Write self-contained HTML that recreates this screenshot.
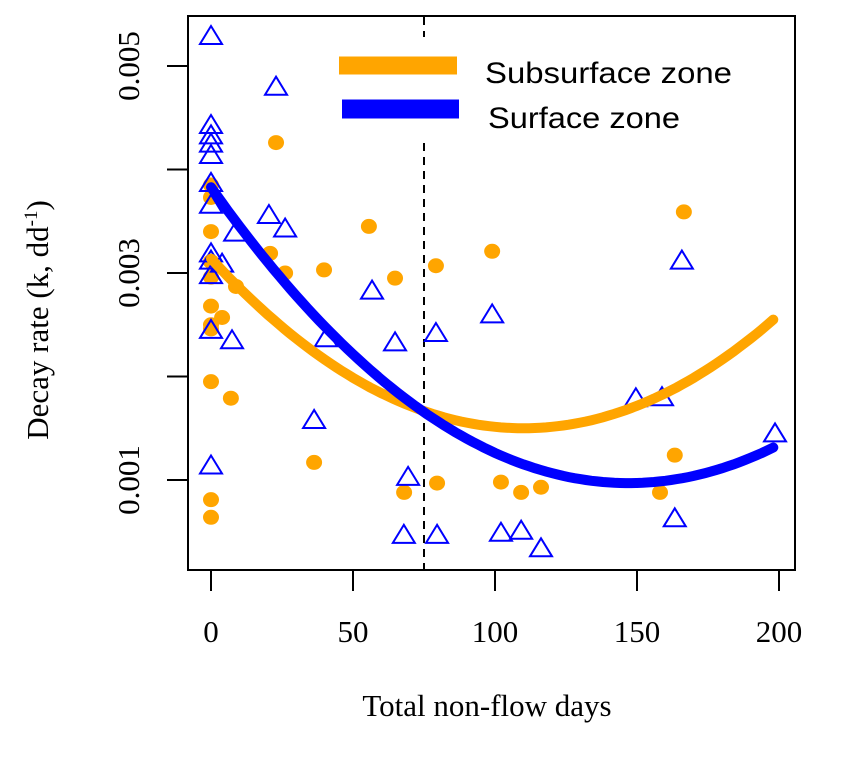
<!DOCTYPE html>
<html><head><meta charset="utf-8"><style>
html,body{margin:0;padding:0;background:#fff;}
svg text{font-family:"Liberation Serif",serif;}
</style></head><body>
<svg id="chart" width="866" height="762" viewBox="0 0 866 762" xmlns="http://www.w3.org/2000/svg">
<rect x="188" y="16" width="607" height="554" fill="none" stroke="#000" stroke-width="2"/>
<g id="marks"></g>
<g id="axes"></g>
<rect x="335" y="37" width="430" height="100" fill="#fff"/>
<line x1="339" y1="65.5" x2="457" y2="65.5" stroke="#FFA500" stroke-width="18"/>
<line x1="342" y1="109" x2="459" y2="109" stroke="#0000FF" stroke-width="19"/>
<text x="485" y="83" font-size="30" textLength="247" lengthAdjust="spacingAndGlyphs" style="font-family:'Liberation Sans',sans-serif">Subsurface zone</text>
<text x="488" y="128" font-size="30" textLength="192" lengthAdjust="spacingAndGlyphs" style="font-family:'Liberation Sans',sans-serif">Surface zone</text>
<text x="487" y="716" font-size="31" text-anchor="middle">Total non-flow days</text>
<text transform="translate(48,320) rotate(-90)" font-size="31" text-anchor="middle">Decay rate (k, dd<tspan font-size="19" dy="-11">-1</tspan><tspan dy="11">)</tspan></text>
</svg>
<script>
const xTicks=[0,50,100,150,200];
const yTicks=[0.001,0.002,0.003,0.004,0.005];
const yTickLabels=["0.001","","0.003","","0.005"];
const surfX=[0,22.9,0,0,0,0,0,0,20.4,26.1,8.5,0,0,3.9,0,0,7.4,56.7,40.5,64.8,79.2,99,36.3,0,69.4,67.9,79.6,102.1,109.2,116.2,149.6,158.8,165.8,198.6,163.3];
const surfY=[0.00529,0.00480,0.00443,0.00433,0.00425,0.00414,0.00387,0.00366,0.00356,0.00343,0.00339,0.00319,0.00312,0.00309,0.00298,0.00245,0.00235,0.00283,0.00237,0.00233,0.00242,0.00260,0.00158,0.00114,0.00103,0.00047,0.00047,0.00049,0.00051,0.00034,0.00179,0.00180,0.00312,0.00145,0.00063];
const subX=[22.9,0,0,0,0,0,0,0,0,3.9,8.8,0,7.0,20.8,26.1,39.8,55.6,64.8,79.2,99,36.3,68,79.6,102.1,109.2,116.2,158.1,163.3,166.5,0,0];
const subY=[0.00426,0.00385,0.00373,0.00340,0.00311,0.00296,0.00268,0.00250,0.00246,0.00257,0.00287,0.00195,0.00179,0.00319,0.00300,0.00303,0.00345,0.00295,0.00307,0.00321,0.00117,0.00088,0.00097,0.00098,0.00088,0.00093,0.00088,0.00124,0.00359,0.00081,0.00064];
// quadratic fits: [a, vertexX, vertexY]
const subFit=[1.355e-7,110,0.00150];
const surfFit=[1.323e-7,147,0.00097];
const thresholdDay=[75];
const NS="http://www.w3.org/2000/svg";
const sx=v=>211+v*2.84;
const sy=v=>66+(0.005-v)*103500;
function mk(t,a,p){const e=document.createElementNS(NS,t);for(const k in a)e.setAttribute(k,a[k]);(p||document.getElementById('marks')).appendChild(e);return e;}
const axes=document.getElementById('axes');
xTicks.forEach(v=>{
 const l=mk('line',{x1:sx(v),x2:sx(v),y1:570,y2:591,stroke:'#000','stroke-width':2},axes);
 
 
 const t=mk('text',{x:sx(v),y:642,'font-size':31,'text-anchor':'middle'},axes);t.textContent=v;
 
 
});
yTicks.forEach((v,i)=>{
 const l=mk('line',{x1:167,x2:188,y1:sy(v),y2:sy(v),stroke:'#000','stroke-width':2},axes);
 
 
 if(yTickLabels[i]){const t=mk('text',{transform:`translate(139,${sy(v)}) rotate(-90)`,'font-size':31,'text-anchor':'middle'},axes);t.textContent=yTickLabels[i];
 
 }
});
const dl=mk('line',{x1:sx(thresholdDay[0]),x2:sx(thresholdDay[0]),y1:17,y2:569,stroke:'#000','stroke-width':2,'stroke-dasharray':'8,6'});


subX.forEach((x,i)=>{
 const c=mk('ellipse',{cx:sx(x),cy:sy(subY[i]),rx:8,ry:7.5,fill:'#FFA500'});
 
 
});
surfX.forEach((x,i)=>{
 const cx=sx(x),cy=sy(surfY[i]);
 const p=mk('polygon',{points:`${cx},${cy-10} ${cx-11},${cy+8} ${cx+11},${cy+8}`,fill:'none',stroke:'#0000FF','stroke-width':2});
 
 
});
function curve(f,color,name){
 let d='';for(let x=0;x<=198;x+=2){const y=f[0]*(x-f[1])*(x-f[1])+f[2];d+=(x?'L':'M')+sx(x).toFixed(1)+','+sy(y).toFixed(1);}
 const p=mk('path',{d:d,fill:'none',stroke:color,'stroke-width':10,'stroke-linecap':'round'});
 
 
}
curve(subFit,'#FFA500','subsurface-fit-curve');
curve(surfFit,'#0000FF','surface-fit-curve');
</script>
</body></html>
